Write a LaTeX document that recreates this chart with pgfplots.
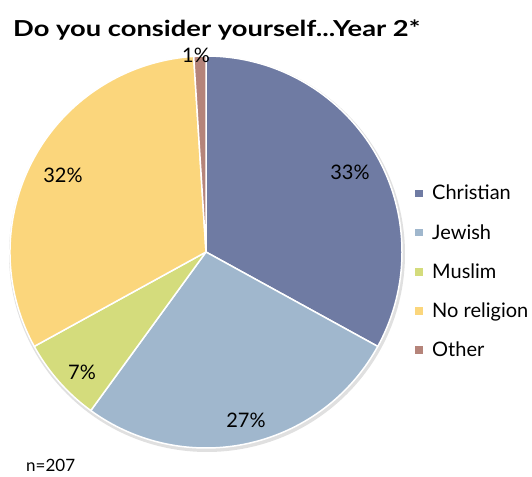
\documentclass[border=0pt]{standalone}
\usepackage{pgfplots}
\usepackage{pgfplotstable}
\pgfplotsset{compat=1.18}
\usepackage{fontspec}
\setmainfont{Lato}
\definecolor{cChr}{HTML}{6F7BA3}
\definecolor{cJew}{HTML}{A0B7CD}
\definecolor{cMus}{HTML}{D4DC7C}
\definecolor{cNon}{HTML}{FBD67C}
\definecolor{cOth}{HTML}{B5847A}
\pgfplotstableread{
label value color
Christian 33 cChr
Jewish 27 cJew
Muslim 7 cMus
{No religion} 32 cNon
Other 1 cOth
}\piedata
\begin{document}
\begin{tikzpicture}
\begin{axis}[name=ax, hide axis, x=1pt, y=1pt, xmin=0, xmax=532, ymin=0, ymax=476,
  scale only axis, clip=false,
  legend style={at={(axis cs:415,293)}, anchor=north west, draw=none, fill=none,
    font=\fontsize{20}{23}\selectfont, row sep=19pt, inner sep=0pt,
    cells={anchor=west}},
  legend cell align=left,
  legend image code/.code={\path[draw=none,fill=none] (0pt,0pt) rectangle (15pt,0.1pt);\fill[#1,draw=none] (0pt,-3.8pt) rectangle (7.5pt,3.8pt);},
  ]
\fill[black!12] (axis cs:207,222) circle[radius=198pt];
\def\cum{0}
\pgfplotsforeachungrouped \i in {0,...,4}{%
  \pgfplotstablegetelem{\i}{value}\of\piedata \let\v\pgfplotsretval
  \pgfplotstablegetelem{\i}{color}\of\piedata \let\c\pgfplotsretval
  \pgfmathsetmacro\sa{90-\cum*3.6}%
  \pgfmathsetmacro\ea{90-(\cum+\v)*3.6}%
  \edef\temp{\noexpand\fill[\c, draw=white, line width=1.5pt, line join=round] (axis cs:206,224) -- ++(\sa:196pt) arc[start angle=\sa, end angle=\ea, radius=196pt] -- cycle;}%
  \temp
  \pgfmathsetmacro\cum{\cum+\v}%
}
\addlegendimage{cChr}\addlegendentry{Christian}
\addlegendimage{cJew}\addlegendentry{Jewish}
\addlegendimage{cMus}\addlegendentry{Muslim}
\addlegendimage{cNon}\addlegendentry{No religion}
\addlegendimage{cOth}\addlegendentry{Other}
\begin{scope}[every node/.style={font=\fontsize{20}{24}\selectfont, inner sep=0pt}]
\node at (axis cs:350,304) {33\%};
\node at (axis cs:246,56) {27\%};
\node at (axis cs:82,104) {7\%};
\node at (axis cs:63,301) {32\%};
\node at (axis cs:196,421) {1\%};
\end{scope}
\node[anchor=base west, inner sep=0pt, font=\fontsize{17}{20}\selectfont] at (axis cs:26,5) {n=207};
\node[anchor=base west, inner sep=0pt, font=\fontsize{22}{26}\selectfont\bfseries] at (axis cs:13,439) {\resizebox{407pt}{\height}{Do you consider yourself...Year 2*}};
\end{axis}
\pgfresetboundingbox
\useasboundingbox (ax.south west) rectangle (ax.north east);
\end{tikzpicture}
\end{document}
